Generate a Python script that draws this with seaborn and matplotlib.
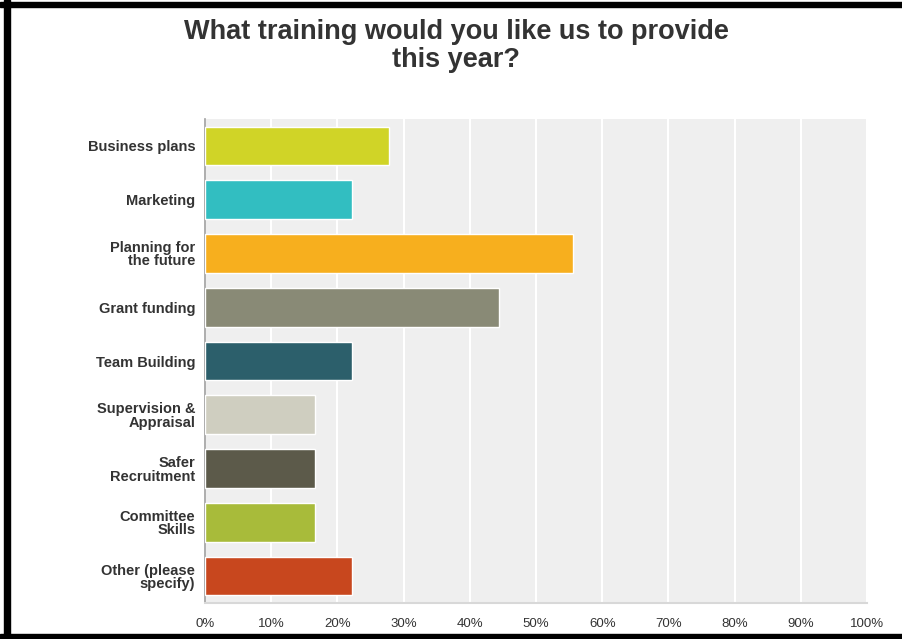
import matplotlib
matplotlib.use("Agg")
import matplotlib.pyplot as plt
import seaborn as sns
import pandas as pd
from matplotlib.patches import Rectangle

categories = ["Business plans", "Marketing", "Planning for\nthe future", "Grant funding",
              "Team Building", "Supervision &\nAppraisal", "Safer\nRecruitment",
              "Committee\nSkills", "Other (please\nspecify)"]
values = [27.78, 22.22, 55.56, 44.44, 22.22, 16.67, 16.67, 16.67, 22.22]
colors = ["#D0D427", "#32BEC1", "#F7AF1E", "#898A76", "#2C5F6B",
          "#CFCEC0", "#5C5A4A", "#A8BB3A", "#C8471E"]
tick_vals = [0, 10, 20, 30, 40, 50, 60, 70, 80, 90, 100]
tick_labels = ["0%", "10%", "20%", "30%", "40%", "50%", "60%", "70%", "80%", "90%", "100%"]
title = "What training would you like us to provide\nthis year?"

sns.set_theme(style="white")
plt.rcParams["font.family"] = ["Liberation Sans", "DejaVu Sans"]

df = pd.DataFrame({"category": categories, "value": values})

fig = plt.figure(figsize=(9.02, 6.39), dpi=100)
ax = fig.add_axes([205/902, 1-603/639, (867-205)/902, (603-119)/639])
ax.set_facecolor("#EFEFEF")

sns.barplot(data=df, x="value", y="category", hue="category", palette=colors,
            legend=False, orient="h", width=0.72, ax=ax, saturation=1, zorder=3)

ax.set_xlim(0, 100)
ax.set_xticks(tick_vals)
ax.set_xticklabels(tick_labels)
ax.xaxis.grid(True, color="white", linewidth=1.5, zorder=0)
ax.set_axisbelow(True)
ax.set_xlabel("")
ax.set_ylabel("")
ax.tick_params(axis="x", length=0, pad=11, labelsize=9.5, labelcolor="#333333")
ax.tick_params(axis="y", length=0, pad=7, labelsize=10.5, labelcolor="#333333")
for lbl in ax.get_yticklabels():
    lbl.set_fontweight("bold")
    lbl.set_horizontalalignment("right")
    lbl.set_multialignment("right")
    lbl.set_linespacing(0.95)
for s in ["top", "right"]:
    ax.spines[s].set_visible(False)
ax.spines["left"].set_color("#A0A0A0")
ax.spines["left"].set_linewidth(1.2)
ax.spines["bottom"].set_color("#D8D8D8")
ax.spines["bottom"].set_linewidth(1.5)

fig.text(456/902, 1-46/639, title, ha="center", va="center", fontsize=19.5,
         fontweight="bold", color="#333333", linespacing=1.08)

# black frame
fig.patches.append(Rectangle((4/902, 0), 6/902, 1, transform=fig.transFigure,
                             color="black", zorder=10))
fig.patches.append(Rectangle((0, 1-7/639), 1, 5/639, transform=fig.transFigure,
                             color="black", zorder=10))
fig.patches.append(Rectangle((0, 0), 1, 5/639, transform=fig.transFigure,
                             color="black", zorder=10))

fig.savefig("out.png", dpi=100)
